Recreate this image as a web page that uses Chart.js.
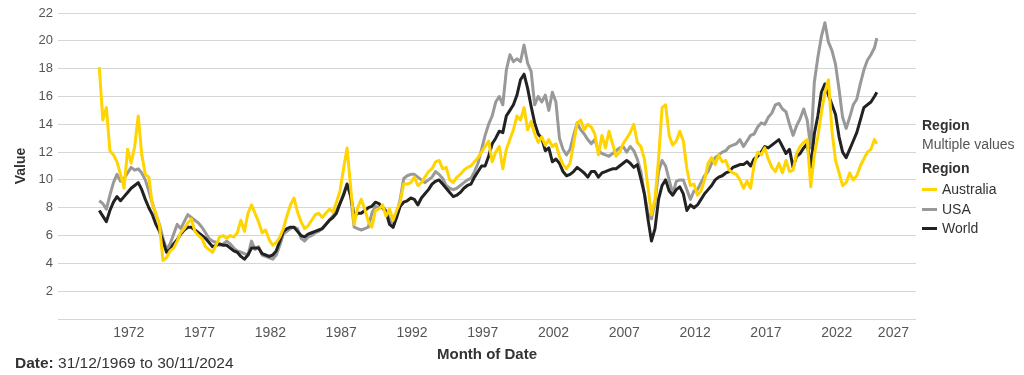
<!DOCTYPE html>
<html>
<head>
<meta charset="utf-8">
<title>Value by Month of Date</title>
<script src="https://cdn.jsdelivr.net/npm/chart.js@4.4.1/dist/chart.umd.min.js"></script>
<style>
  body { margin: 0; background: #fff; }
  #wrap { position: relative; width: 1024px; height: 375px; font-family: 'Liberation Sans', Arial, sans-serif; }
  #wrap .txt { position: absolute; white-space: nowrap; line-height: 16px; font-size: 14px; color: #333; }
  #wrap .b { font-weight: bold; }
  #wrap .sw { position: absolute; width: 15px; height: 3px; }
</style>
</head>
<body>
<div id="wrap">
  <canvas id="chart" width="1024" height="375"></canvas>

  <div class="txt b" style="left:922px; top:117px;">Region</div>
  <div class="txt" style="left:922px; top:136px; color:#555;">Multiple values</div>
  <div class="txt b" style="left:922px; top:160px;">Region</div>
  <div id="legendRows"></div>

  <div class="txt" style="left:15px; top:355px; font-size:15.5px;"><span class="b">Date:</span> 31/12/1969 to 30/11/2024</div>
</div>

<script>
// quarterly readings (Mar, Jun, Sep, Dec), first value is Dec 1969, last is Nov 2024
const australia = [
    18.1,
    14.3, 15.2, 12.1, 11.8,   // 1970
    11.3, 10.4, 9.4, 12.2,    // 1971
    11.2, 12.4, 14.6, 11.8,   // 1972
    10.4, 10.2, 8.2, 7.6,     // 1973
    6.7, 4.2, 4.4, 4.9,       // 1974
    5.1, 5.6, 6.2, 6.5,       // 1975
    6.9, 7.2, 6.3, 6.0,       // 1976
    5.8, 5.2, 5.0, 4.8,       // 1977
    5.3, 5.9, 6.0, 5.8,       // 1978
    6.0, 5.9, 6.2, 7.1,       // 1979
    6.3, 7.6, 8.2, 7.6,       // 1980
    7.0, 6.2, 6.4, 5.7,       // 1981
    5.3, 5.5, 5.9, 6.5,       // 1982
    7.4, 8.2, 8.7, 7.7,       // 1983
    7.0, 6.5, 6.7, 7.1,       // 1984
    7.5, 7.6, 7.3, 7.6,       // 1985
    7.9, 7.7, 8.4, 9.2,       // 1986
    10.8, 12.3, 9.5, 6.8,     // 1987
    8.0, 8.6, 7.9, 7.0,       // 1988
    6.6, 7.8, 7.9, 8.2,       // 1989
    7.4, 7.9, 7.1, 7.8,       // 1990
    8.4, 9.7, 9.7, 9.8,       // 1991
    10.2, 9.6, 9.8, 10.2,     // 1992
    10.6, 10.8, 11.3, 11.4,   // 1993
    10.8, 10.9, 10.0, 9.8,    // 1994
    10.2, 10.4, 10.7, 10.9,   // 1995
    11.0, 11.3, 11.6, 12.0,   // 1996
    12.4, 12.8, 11.3, 12.0,   // 1997
    12.4, 10.8, 12.2, 12.9,   // 1998
    13.6, 14.6, 14.3, 15.2,   // 1999
    13.6, 14.2, 13.3, 12.7,   // 2000
    13.1, 12.5, 12.9, 12.4,   // 2001
    12.6, 11.7, 11.1, 10.8,   // 2002
    11.2, 12.6, 14.1, 14.3,   // 2003
    13.6, 14.0, 13.8, 13.3,   // 2004
    11.8, 13.2, 12.3, 13.5,   // 2005
    12.6, 11.7, 12.0, 12.6,   // 2006
    13.0, 13.4, 14.0, 12.7,   // 2007
    12.4, 11.5, 9.5, 7.5,     // 2008
    8.6, 11.5, 15.2, 15.4,    // 2009
    13.2, 12.5, 12.8, 13.5,   // 2010
    12.8, 10.8, 9.6, 9.7,     // 2011
    8.9, 9.2, 10.0, 11.2,     // 2012
    11.6, 11.1, 11.8, 11.3,   // 2013
    11.4, 10.7, 10.5, 10.4,   // 2014
    10.0, 9.4, 9.9, 9.4,      // 2015
    11.1, 12.0, 11.8, 12.3,   // 2016
    11.5, 10.9, 10.6, 11.2,   // 2017
    10.5, 11.4, 10.6, 10.7,   // 2018
    11.9, 12.4, 12.7, 12.9,   // 2019
    9.5, 11.8, 13.1, 14.8,    // 2020
    16.3, 17.2, 13.5, 11.4,   // 2021
    10.5, 9.6, 9.8, 10.5,     // 2022
    10.0, 10.3, 11.0, 11.5,   // 2023
    12.0, 12.2, 12.9, 12.6    // 2024
];

const usa = [
    8.5,
    8.3, 7.9, 8.9, 9.8,       // 1970
    10.4, 9.9, 10.1, 10.5,    // 1971
    10.9, 10.7, 10.8, 10.5,   // 1972
    10.0, 9.2, 8.3, 7.5,      // 1973
    6.8, 5.8, 5.0, 5.4,       // 1974
    6.1, 6.8, 6.5, 7.0,       // 1975
    7.5, 7.3, 7.1, 6.9,       // 1976
    6.6, 6.2, 5.8, 5.6,       // 1977
    5.5, 5.3, 5.4, 5.6,       // 1978
    5.4, 5.1, 4.9, 4.8,       // 1979
    4.7, 4.6, 5.6, 5.0,       // 1980
    5.2, 4.6, 4.5, 4.4,       // 1981
    4.3, 4.6, 5.3, 6.1,       // 1982
    6.3, 6.5, 6.6, 6.5,       // 1983
    5.8, 5.6, 5.9, 6.0,       // 1984
    6.2, 6.3, 6.5, 6.8,       // 1985
    7.1, 7.4, 7.8, 8.3,       // 1986
    9.0, 9.7, 8.8, 6.6,       // 1987
    6.5, 6.4, 6.5, 6.6,       // 1988
    7.6, 8.1, 8.0, 8.1,       // 1989
    7.8, 7.2, 6.6, 7.5,       // 1990
    8.6, 10.1, 10.3, 10.4,    // 1991
    10.4, 10.2, 10.0, 9.8,    // 1992
    10.0, 10.2, 10.6, 10.4,   // 1993
    10.1, 9.6, 9.4, 9.3,      // 1994
    9.4, 9.6, 9.8, 10.0,      // 1995
    10.1, 10.6, 11.2, 12.2,   // 1996
    13.2, 14.0, 14.6, 15.6,   // 1997
    16.0, 15.4, 17.9, 19.0,   // 1998
    18.5, 18.7, 18.5, 19.7,   // 1999
    18.4, 17.8, 15.4, 16.0,   // 2000
    15.6, 16.1, 15.0, 16.3,   // 2001
    15.6, 13.0, 12.2, 11.8,   // 2002
    12.2, 13.2, 14.1, 13.6,   // 2003
    13.3, 12.9, 12.6, 12.9,   // 2004
    12.1, 11.9, 11.8, 11.7,   // 2005
    11.9, 12.1, 12.3, 12.4,   // 2006
    12.0, 12.4, 12.1, 11.5,   // 2007
    10.6, 9.0, 7.6, 7.2,      // 2008
    8.4, 10.6, 11.4, 11.0,    // 2009
    10.0, 9.0, 9.9, 10.0,     // 2010
    10.0, 9.3, 8.6, 9.2,      // 2011
    9.3, 9.8, 10.3, 10.6,     // 2012
    11.2, 11.6, 11.8, 12.0,   // 2013
    12.1, 12.4, 12.5, 12.6,   // 2014
    12.9, 12.4, 12.8, 13.2,   // 2015
    13.3, 13.8, 14.1, 14.0,   // 2016
    14.5, 14.8, 15.4, 15.5,   // 2017
    15.1, 14.9, 14.0, 13.2,   // 2018
    13.9, 14.4, 15.1, 14.3,   // 2019
    12.3, 17.0, 18.8, 20.3,   // 2020
    21.3, 19.9, 19.3, 18.3,   // 2021
    16.5, 14.5, 13.7, 14.5,   // 2022
    15.4, 15.8, 16.9, 17.9,   // 2023
    18.6, 19.0, 19.5, 20.2    // 2024
];

const world = [
    7.8,
    7.4, 7.0, 7.8, 8.4,       // 1970
    8.8, 8.5, 8.8, 9.1,       // 1971
    9.4, 9.6, 9.8, 9.3,       // 1972
    8.6, 8.0, 7.5, 6.8,       // 1973
    6.3, 5.6, 4.8, 5.0,       // 1974
    5.4, 5.7, 6.1, 6.4,       // 1975
    6.6, 6.6, 6.4, 6.2,       // 1976
    6.0, 5.8, 5.5, 5.2,       // 1977
    5.3, 5.4, 5.3, 5.3,       // 1978
    5.1, 4.9, 4.8, 4.5,       // 1979
    4.3, 4.6, 5.1, 5.1,       // 1980
    5.1, 4.7, 4.6, 4.5,       // 1981
    4.6, 4.9, 5.6, 6.3,       // 1982
    6.5, 6.6, 6.6, 6.3,       // 1983
    6.0, 5.9, 6.1, 6.2,       // 1984
    6.3, 6.4, 6.5, 6.8,       // 1985
    7.1, 7.3, 7.6, 8.3,       // 1986
    8.9, 9.7, 8.9, 7.4,       // 1987
    7.6, 7.6, 7.8, 8.0,       // 1988
    8.1, 8.4, 8.3, 8.0,       // 1989
    7.7, 6.8, 6.6, 7.3,       // 1990
    8.1, 8.4, 8.5, 8.7,       // 1991
    8.6, 8.2, 8.7, 9.0,       // 1992
    9.3, 9.7, 9.9, 10.0,      // 1993
    9.7, 9.4, 9.1, 8.8,       // 1994
    8.9, 9.1, 9.4, 9.6,       // 1995
    9.7, 10.2, 10.6, 11.0,    // 1996
    11.0, 11.7, 12.6, 13.0,   // 1997
    13.5, 13.4, 14.6, 15.0,   // 1998
    15.4, 16.1, 17.2, 17.6,   // 1999
    16.6, 15.3, 14.1, 13.3,   // 2000
    13.0, 12.1, 12.3, 11.3,   // 2001
    11.5, 11.2, 10.6, 10.3,   // 2002
    10.4, 10.6, 10.9, 10.7,   // 2003
    10.5, 10.2, 10.6, 10.6,   // 2004
    10.2, 10.5, 10.6, 10.7,   // 2005
    10.8, 10.8, 11.0, 11.2,   // 2006
    11.4, 11.2, 10.9, 11.1,   // 2007
    10.1, 9.0, 7.2, 5.6,      // 2008
    6.5, 8.6, 9.6, 10.0,      // 2009
    9.2, 8.9, 9.3, 9.5,       // 2010
    9.0, 7.8, 8.2, 8.0,       // 2011
    8.2, 8.6, 9.0, 9.3,       // 2012
    9.6, 10.0, 10.2, 10.3,    // 2013
    10.5, 10.6, 10.9, 11.0,   // 2014
    11.1, 11.1, 11.3, 11.0,   // 2015
    11.5, 11.7, 12.0, 12.4,   // 2016
    12.3, 12.5, 12.7, 12.9,   // 2017
    12.4, 11.9, 12.2, 10.9,   // 2018
    11.7, 11.9, 12.3, 12.6,   // 2019
    10.9, 13.3, 14.6, 16.3,   // 2020
    16.9, 16.1, 15.4, 14.7,   // 2021
    13.1, 12.0, 11.6, 12.2,   // 2022
    12.8, 13.4, 14.3, 15.2,   // 2023
    15.4, 15.6, 16.0, 16.3    // 2024
];

const yearTicks = [1972, 1977, 1982, 1987, 1992, 1997, 2002, 2007, 2012, 2017, 2022, 2027];

// months counted from year 0: Dec 1969, then every 3 months to Sep 2024, then Nov 2024
const months = [];
for (let m = 1969 * 12 + 11; m <= 2024 * 12 + 8; m += 3) months.push(m);
months.push(2024 * 12 + 10);

const series = [
    { label: 'Australia', values: australia, color: '#FFD400' },
    { label: 'World', values: world, color: '#222222' },
    { label: 'USA', values: usa, color: '#999999' }
];

function toPoints(values) {
    return values.map((v, i) => ({ x: Math.floor(months[i] / 12) + (months[i] % 12) / 12, y: v }));
}

// legend rows on the right
const legendOrder = ['Australia', 'USA', 'World'];
const rows = document.getElementById('legendRows');
legendOrder.forEach((name, i) => {
    const s = series.find(d => d.label === name);
    const cy = 189 + i * 19.5;
    rows.insertAdjacentHTML('beforeend',
        `<div class="sw" style="left:922px; top:${cy - 1}px; background:${s.color};"></div>` +
        `<div class="txt" style="left:942px; top:${cy - 8}px;">${name}</div>`);
});

const font = "'Liberation Sans', Arial, sans-serif";
const lastYear = yearTicks[yearTicks.length - 1];

// the last year label is kept inside the axis end, like the original
const lastLabel = {
    id: 'lastLabel',
    afterDraw(chart) {
        const x = chart.scales.x;
        const ctx = chart.ctx;
        ctx.save();
        ctx.font = `14px ${font}`;
        ctx.fillStyle = '#555';
        ctx.textAlign = 'right';
        ctx.textBaseline = 'middle';
        const half = ctx.measureText(String(lastYear)).width / 2;
        const right = Math.min(x.getPixelForValue(lastYear) + half, chart.chartArea.right - 7);
        ctx.fillText(String(lastYear), right, chart.chartArea.bottom + 14);
        ctx.restore();
    }
};

new Chart(document.getElementById('chart').getContext('2d'), {
    type: 'line',
    data: {
        datasets: series.map(s => ({
            label: s.label,
            data: toPoints(s.values),
            borderColor: s.color,
            backgroundColor: s.color,
            borderWidth: 3,
            borderJoinStyle: 'round',
            pointRadius: 0,
            tension: 0,
            fill: false
        }))
    },
    options: {
        responsive: false,
        animation: false,
        devicePixelRatio: 1,
        layout: { padding: { top: 13, right: 108, bottom: 0, left: 0 } },
        plugins: {
            legend: { display: false },
            tooltip: { enabled: false }
        },
        scales: {
            x: {
                type: 'linear',
                min: 1967.0,
                max: 2027.6,
                afterFit: scale => { scale.height = 56; },
                afterBuildTicks: scale => { scale.ticks = yearTicks.map(v => ({ value: v })); },
                grid: { display: false, drawTicks: false },
                border: { display: false },
                ticks: {
                    autoSkip: false,
                    maxRotation: 0,
                    padding: 6,
                    color: '#555',
                    font: { family: font, size: 14 },
                    callback: v => (v === lastYear ? '' : String(v))
                },
                title: {
                    display: true,
                    text: 'Month of Date',
                    color: '#333',
                    font: { family: font, size: 15, weight: 'bold' },
                    padding: { top: 0, bottom: 11 }
                }
            },
            y: {
                min: 0,
                max: 22,
                afterFit: scale => { scale.width = 58; },
                grid: { color: '#d6d6d6', lineWidth: 1, drawTicks: false },
                border: { display: false },
                ticks: {
                    stepSize: 2,
                    padding: 5,
                    color: '#555',
                    font: { family: font, size: 13 },
                    callback: v => (v === 0 ? '' : v)
                },
                title: {
                    display: true,
                    text: 'Value',
                    color: '#333',
                    font: { family: font, size: 14, weight: 'bold' },
                    padding: { top: 13, bottom: 0 }
                }
            }
        }
    },
    plugins: [lastLabel]
});
</script>
</body>
</html>
